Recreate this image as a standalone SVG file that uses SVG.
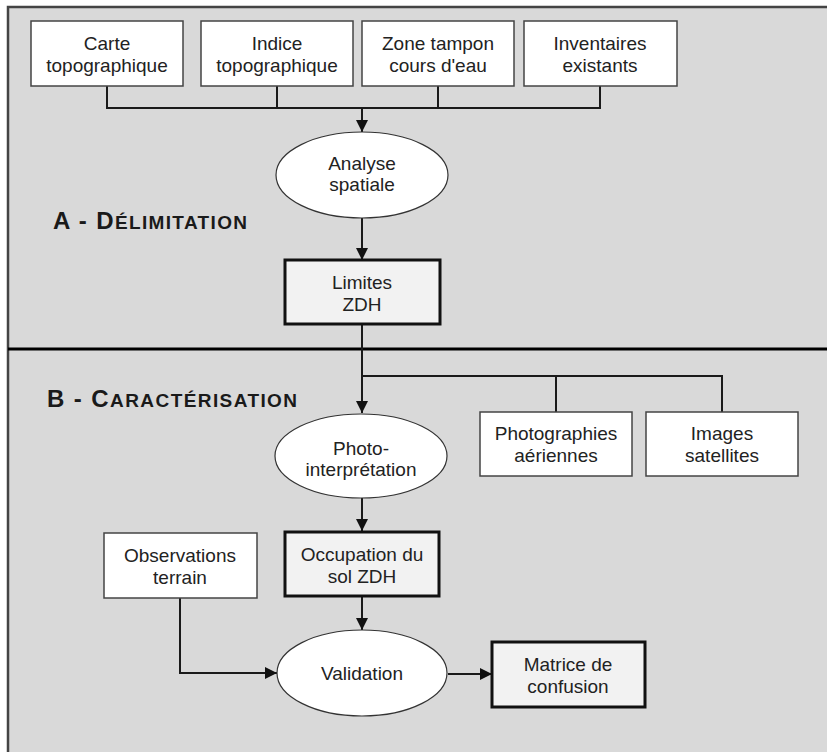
<svg xmlns="http://www.w3.org/2000/svg" width="827" height="752" viewBox="0 0 827 752">
<defs>
<style>
.t{font-family:"Liberation Sans",Arial,sans-serif;font-size:19px;fill:#222;text-anchor:middle}
.h{font-family:"Liberation Sans",Arial,sans-serif;font-weight:bold;fill:#1a1a1a}
.box{fill:#fff;stroke:#444;stroke-width:1.5}
.res{fill:#f2f2f2;stroke:#111;stroke-width:3}
.ell{fill:#fff;stroke:#333;stroke-width:1.2}
.c{fill:none;stroke:#1a1a1a;stroke-width:2}
</style>
<marker id="ar" viewBox="0 0 10 10" refX="10" refY="5" markerWidth="12" markerHeight="12" markerUnits="userSpaceOnUse" orient="auto">
<path d="M0,0 L10,5 L0,10 z" fill="#111"/>
</marker>
</defs>
<rect x="0" y="0" width="827" height="752" fill="#fff"/>
<rect x="8" y="7" width="830" height="760" fill="#d9d9d9" stroke="#444" stroke-width="2.5"/>
<line x1="8" y1="349" x2="827" y2="349" stroke="#000" stroke-width="3"/>
<text class="h" x="53" y="229" textLength="194" lengthAdjust="spacing"><tspan font-size="24">A - D</tspan><tspan font-size="19">ÉLIMITATION</tspan></text>
<text class="h" x="47" y="407" textLength="250" lengthAdjust="spacing"><tspan font-size="24">B - C</tspan><tspan font-size="19">ARACTÉRISATION</tspan></text>
<g id="connectors">
<path class="c" d="M107,86 V108 H600 V86 M277,86 V108 M438,86 V108"/>
<path class="c" d="M362,108 V132" marker-end="url(#ar)"/>
<path class="c" d="M362,218 V260" marker-end="url(#ar)"/>
<path class="c" d="M362,324 V413" marker-end="url(#ar)"/>
<path class="c" d="M362,376 H722 V412 M556,376 V412"/>
<path class="c" d="M362,498 V531" marker-end="url(#ar)"/>
<path class="c" d="M362,597 V630" marker-end="url(#ar)"/>
<path class="c" d="M180,598 V673 H277" marker-end="url(#ar)"/>
<path class="c" d="M448,674 H492" marker-end="url(#ar)"/>
</g>
<g id="carte"><rect class="box" x="31" y="21" width="152" height="65"/><text class="t" x="107" y="50">Carte</text><text class="t" x="107" y="72">topographique</text></g>
<g id="indice"><rect class="box" x="201" y="21" width="152" height="65"/><text class="t" x="277" y="50">Indice</text><text class="t" x="277" y="72">topographique</text></g>
<g id="zone"><rect class="box" x="362" y="21" width="152" height="65"/><text class="t" x="438" y="50">Zone tampon</text><text class="t" x="438" y="72">cours d'eau</text></g>
<g id="inventaires"><rect class="box" x="524" y="21" width="153" height="65"/><text class="t" x="600" y="50">Inventaires</text><text class="t" x="600" y="72">existants</text></g>
<g id="analyse"><ellipse class="ell" cx="362" cy="175" rx="86" ry="43"/><text class="t" x="362" y="170">Analyse</text><text class="t" x="362" y="191">spatiale</text></g>
<g id="limites"><rect class="res" x="285" y="260" width="155" height="64"/><text class="t" x="362" y="289">Limites</text><text class="t" x="362" y="311">ZDH</text></g>
<g id="photointerp"><ellipse class="ell" cx="361" cy="456" rx="86" ry="42"/><text class="t" x="361" y="455">Photo-</text><text class="t" x="361" y="476">interprétation</text></g>
<g id="photographies"><rect class="box" x="480" y="412" width="152" height="64"/><text class="t" x="556" y="440">Photographies</text><text class="t" x="556" y="462">aériennes</text></g>
<g id="images"><rect class="box" x="646" y="412" width="152" height="64"/><text class="t" x="722" y="440">Images</text><text class="t" x="722" y="462">satellites</text></g>
<g id="observations"><rect class="box" x="104" y="533" width="153" height="65"/><text class="t" x="180" y="562">Observations</text><text class="t" x="180" y="584">terrain</text></g>
<g id="occupation"><rect class="res" x="285" y="532" width="154" height="64"/><text class="t" x="362" y="561">Occupation du</text><text class="t" x="362" y="583">sol ZDH</text></g>
<g id="validation"><ellipse class="ell" cx="362" cy="673" rx="85" ry="43"/><text class="t" x="362" y="680">Validation</text></g>
<g id="matrice"><rect class="res" x="492" y="642" width="153" height="65"/><text class="t" x="568" y="671">Matrice de</text><text class="t" x="568" y="693">confusion</text></g>
</svg>
